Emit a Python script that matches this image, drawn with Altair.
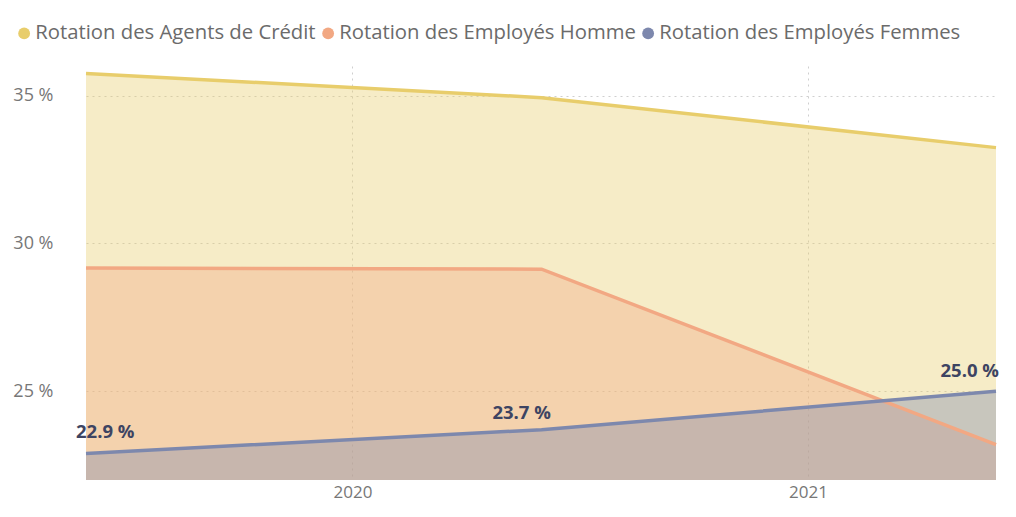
import altair as alt
import pandas as pd

dates = ["2019-06-01", "2020-06-01", "2021-06-01"]
series = [
    "Rotation des Agents de Crédit",
    "Rotation des Employés Homme",
    "Rotation des Employés Femmes",
]
agents = [35.75, 34.93, 33.24]
homme = [29.17, 29.13, 23.2]
femmes = [22.9, 23.7, 25.0]
colors = ["#E8CD6B", "#F2A883", "#7D88AD"]
label_pos = ["first", "middle", "last"]

rows = []
for s, vals in zip(series, [agents, homme, femmes]):
    for i, (d, v) in enumerate(zip(dates, vals)):
        rows.append({"date": d, "serie": s, "value": v, "pos": label_pos[i],
                     "lbl": f"{v:.1f} %"})
df = pd.DataFrame(rows)

W, H = 910, 414
YMIN, YMAX = 22, 36
FONT = "Open Sans"

color = alt.Color(
    "serie:N",
    scale=alt.Scale(domain=series, range=colors),
    legend=alt.Legend(
        title=None, orient="none", direction="horizontal",
        legendX=-72, legendY=-43, symbolType="circle", symbolSize=140,
        symbolStrokeWidth=0, symbolOpacity=1, labelFontSize=20.3,
        labelFont=FONT, labelColor="#6B6B6B", labelLimit=600,
        columnPadding=2, labelOffset=1,
    ),
    sort=series,
)

x = alt.X(
    "date:T",
    scale=alt.Scale(type="utc", nice=False),
    title=None,
    axis=alt.Axis(
        format="%Y", tickCount="year", domain=False, ticks=False,
        labelFontSize=17, labelFont=FONT, labelColor="#777777",
        labelPadding=4, grid=True, gridColor="#CFCFCF", gridDash=[2, 4],
        gridWidth=1,
    ),
)
y = alt.Y(
    "value:Q",
    stack=None,
    scale=alt.Scale(domain=[YMIN, YMAX], nice=False, zero=False),
    title=None,
    axis=alt.Axis(
        values=[25, 30, 35], labelExpr="datum.value + ' %'",
        domain=False, ticks=False, labelFontSize=18, labelFont=FONT,
        labelColor="#777777", labelPadding=33, grid=True,
        gridColor="#CFCFCF", gridDash=[2, 4], gridWidth=1,
    ),
)

base = alt.Chart(df)

areas = base.mark_area(opacity=0.38, interpolate="linear").encode(
    x=x, y=y, y2=alt.Y2(datum=YMIN), color=color,
    order=alt.Order("serie_order:Q"),
).transform_calculate(
    serie_order=f"indexof({series!r}, datum.serie)"
)

lines = base.mark_line(strokeWidth=3.5).encode(
    x=x, y=y,
    color=alt.Color("serie:N", scale=alt.Scale(domain=series, range=colors), legend=None),
    detail="serie:N",
)

fem = base.transform_filter(alt.datum.serie == series[2])
text_style = dict(fontSize=18.5, fontWeight="bold", font=FONT,
                  color="#3D4462", baseline="middle")
t1 = fem.transform_filter(alt.datum.pos == "first").mark_text(
    align="left", dx=-10, dy=-21, **text_style).encode(x=x, y=y, text="lbl:N")
t2 = fem.transform_filter(alt.datum.pos == "middle").mark_text(
    align="center", dx=-20, dy=-17, **text_style).encode(x=x, y=y, text="lbl:N")
t3 = fem.transform_filter(alt.datum.pos == "last").mark_text(
    align="right", dx=3, dy=-20, **text_style).encode(x=x, y=y, text="lbl:N")

chart = alt.layer(areas, lines, t1, t2, t3).properties(
    width=W, height=H,
    autosize=alt.AutoSizeParams(type="none"),
    padding={"left": 78, "top": 58, "right": 12, "bottom": 25},
    background="white",
).configure_view(strokeWidth=0)

chart.save("out.html", embed_options={"renderer": "svg", "actions": False})
